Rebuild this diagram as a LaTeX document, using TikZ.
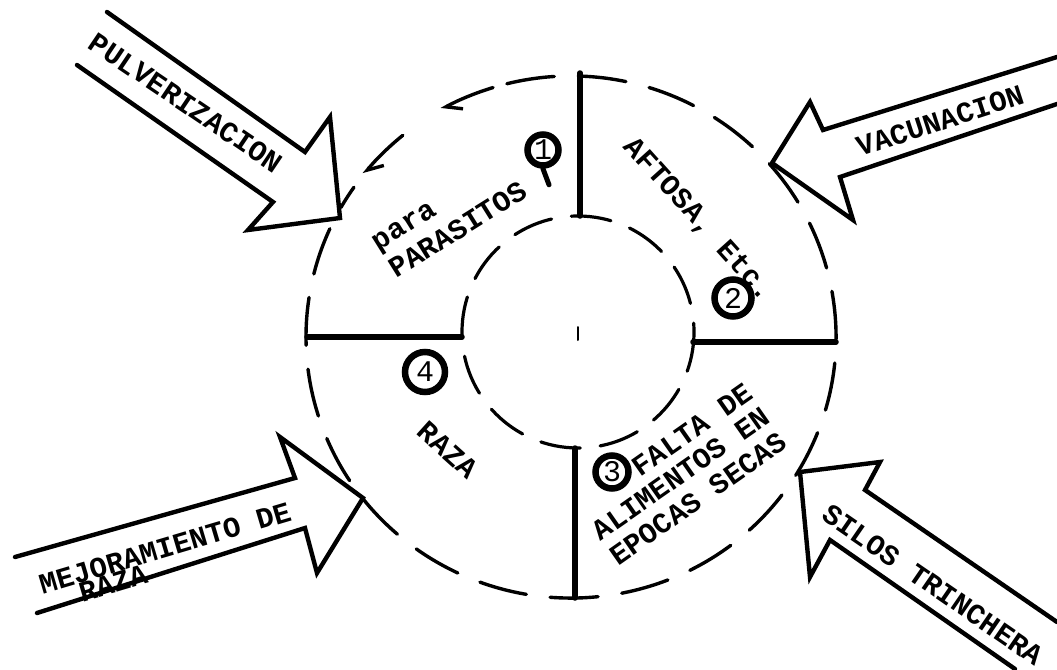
\documentclass[tikz,border=0pt]{standalone}
\usepackage{fontspec}
\newfontfamily\typewr{Liberation Mono}
\usetikzlibrary{arrows.meta}
\tikzset{
  typed/.style={font=\typewr\bfseries\fontsize{29}{30}\selectfont, inner sep=0pt},
  numring/.style={circle, draw, line width=6.5pt, inner sep=0pt, font=\typewr\fontsize{30}{30}\selectfont},
  bigarrow/.style={line width=4.4pt, line join=miter},
  wall/.style={line width=5.5pt},
  outerdash/.style={line width=3.4pt, dash pattern=on 48pt off 24pt},
  innerdash/.style={line width=3.2pt, dash pattern=on 40pt off 20pt},
  spin/.style={line width=3.4pt, -{Straight Barb[harpoon,length=14pt,width=20pt,line width=3.4pt]}}
}
\begin{document}
\begin{tikzpicture}[x=1pt,y=-1pt,line cap=round]
        \useasboundingbox (0,0) rectangle (1057,669);
        \coordinate (mid) at (571,337);
        \coordinate (hub) at (578,332);
        \draw[outerdash] (mid) ++(256:265 and 261)
          arc[start angle=256, end angle=575, x radius=265, y radius=261];
        \draw[spin] (mid) ++(252.9:265 and 261)
          arc[start angle=252.9, end angle=240.7, x radius=265, y radius=261];
        \draw[spin] (mid) ++(230.6:265 and 261)
          arc[start angle=230.6, end angle=218.6, x radius=265, y radius=261];
        \draw[innerdash] (hub) circle[radius=116];
        \draw[line width=2pt] (578,327) -- (578,340);
        \coordinate (o1) at (580,73);  \coordinate (i1) at (580,216);
        \coordinate (o2) at (836,342); \coordinate (i2) at (693,342);
        \coordinate (o3) at (575,598); \coordinate (i3) at (575,448);
        \coordinate (o4) at (307,337); \coordinate (i4) at (462,337);
        \foreach \k in {1,2,3,4}{
          \draw[wall] (o\k) -- (i\k);}
        \draw[bigarrow] (107,12)--(305,152)--(330,117)--(340,218)--(248,230)--(273,202)--(77,65);
        \node[typed,rotate=-34] (pulv) at (186,103) {PULVERIZACION};
        \draw[bigarrow] (1057,57)--(823,130)--(810,102)--(772,163)--(853,220)--(840,177)--(1057,104);
        \node[typed,rotate=18] (vacu) at (940,121) {VACUNACION};
        \draw[bigarrow] (15,557)--(295,478)--(280,437)--(363,498)--(317,573)--(305,528)--(37,613);
        \node[typed,rotate=16.5] (mejo) at (165,548) {MEJORAMIENTO DE};
        \node[typed,rotate=16.5] (mejoraza) at (113,583) {RAZA};
        \draw[bigarrow] (1057,622)--(865,490)--(880,462)--(800,472)--(810,577)--(830,540)--(1015,669);
        \node[typed,rotate=-34.5] (silos) at (933,585) {SILOS TRINCHERA};
        \node[typed,align=left,rotate=32,font=\typewr\bfseries\fontsize{29}{33}\selectfont] (parasitos) at (450,217) {para\\PARASITOS};
        \node[typed,rotate=-48] (aftosa) at (698,220) {AFTOSA, Etc.};
        \node[typed,align=right,rotate=35,font=\typewr\bfseries\fontsize{29}{30}\selectfont] (falta) at (681,474) {FALTA DE\\ALIMENTOS EN\\EPOCAS SECAS};
        \node[typed,rotate=-42] (raza) at (448,450) {RAZA};
        \node[numring,minimum size=31pt] (n1) at (543,150) {1};
        \draw[line width=5pt] (n1.south) -- ++(6,16);
        \node[numring,minimum size=37pt] (n2) at (733,298) {2};
        \node[numring,minimum size=33pt] (n3) at (612,472) {3};
        \node[numring,minimum size=40pt] (n4) at (425,372) {4};
      \end{tikzpicture}
\end{document}
